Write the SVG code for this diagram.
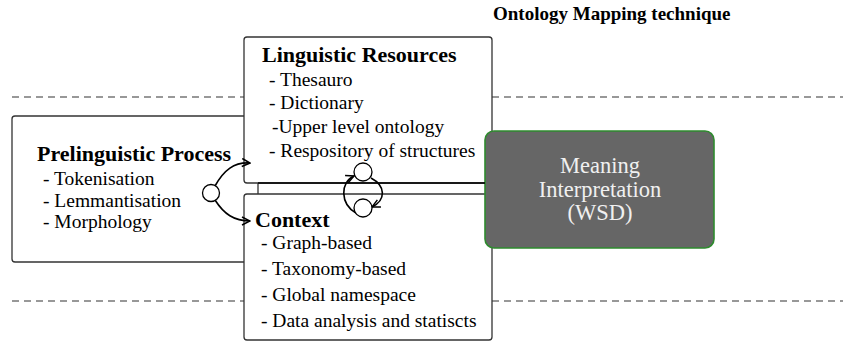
<svg xmlns="http://www.w3.org/2000/svg" width="843" height="342" viewBox="0 0 843 342">
  <style>
    .box { fill: #ffffff; stroke: #333333; stroke-width: 1.3; }
    .guide { stroke: #777777; stroke-width: 1.3; stroke-dasharray: 7 5; fill: none; }
    .head { font-family: "Liberation Serif", "Times New Roman", serif; font-weight: bold; font-size: 22px; fill: #000000; }
    .item { font-family: "Liberation Serif", "Times New Roman", serif; font-size: 19.5px; fill: #000000; }
    .title { font-family: "Liberation Serif", "Times New Roman", serif; font-weight: bold; font-size: 19px; fill: #000000; }
    .wsd { font-family: "Liberation Serif", "Times New Roman", serif; font-size: 22.5px; fill: #f0f0f0; text-anchor: middle; }
    .flow { fill: none; stroke: #000000; stroke-width: 1.6; }
    .knot { fill: #ffffff; stroke: #000000; stroke-width: 1.3; }
  </style>
  <defs>
    <marker id="open-arrow" viewBox="0 0 10 10" refX="9" refY="5" markerWidth="10" markerHeight="10" markerUnits="userSpaceOnUse" orient="auto">
      <path d="M1,1 L9,5 L1,9" fill="none" stroke="#000000" stroke-width="1.5"/>
    </marker>
  </defs>

  <rect width="843" height="342" fill="#ffffff"/>

  <text class="title" x="493" y="20">Ontology Mapping technique</text>

  <!-- dashed band guides -->
  <line class="guide" x1="12" y1="97" x2="843" y2="97"/>
  <line class="guide" x1="12" y1="301" x2="843" y2="301"/>

  <g id="prelinguistic">
    <rect class="box" x="12" y="116" width="246" height="146" rx="3"/>
    <text class="head" x="37" y="161">Prelinguistic Process</text>
    <text class="item" x="43" y="185">- Tokenisation</text>
    <text class="item" x="43" y="207">- Lemmantisation</text>
    <text class="item" x="43" y="228">- Morphology</text>
  </g>

  <g id="linguistic-resources">
    <rect class="box" x="244" y="37" width="248" height="146" rx="3"/>
    <text class="head" x="262" y="62">Linguistic Resources</text>
    <text class="item" x="269" y="86">- Thesauro</text>
    <text class="item" x="269" y="109">- Dictionary</text>
    <text class="item" x="272" y="133">-Upper level ontology</text>
    <text class="item" x="269" y="157">- Respository of structures</text>
  </g>

  <g id="context">
    <rect class="box" x="244" y="194" width="248" height="146" rx="3"/>
    <text class="head" x="255" y="227">Context</text>
    <text class="item" x="261" y="249">- Graph-based</text>
    <text class="item" x="261" y="275">- Taxonomy-based</text>
    <text class="item" x="261" y="301">- Global namespace</text>
    <text class="item" x="261" y="327">- Data analysis and statiscts</text>
  </g>

  <g id="meaning-interpretation">
    <rect x="485" y="131" width="229" height="117" rx="9" fill="#666666" stroke="#2e8b2e" stroke-width="1.6"/>
    <text class="wsd" x="600" y="173">Meaning</text>
    <text class="wsd" x="600" y="197">Interpretation</text>
    <text class="wsd" x="600" y="220">(WSD)</text>
  </g>

  <g id="connectors">
    <line x1="258" y1="183" x2="485" y2="183" stroke="#000000" stroke-width="1.3"/>
    <!-- fork from the pre-linguistic stage -->
    <path class="flow" d="M215,186 C224,170 234,162 250,163" marker-end="url(#open-arrow)"/>
    <path class="flow" d="M215,200 C224,214 234,221 250,221" marker-end="url(#open-arrow)"/>
    <circle class="knot" cx="211" cy="193" r="8.5"/>
    <!-- feedback loop between resources and context -->
    <path class="flow" d="M356,213 C340,204 340,182 354,176" marker-end="url(#open-arrow)"/>
    <path class="flow" d="M371,178 C386,186 386,200 372,207" marker-end="url(#open-arrow)"/>
    <circle class="knot" cx="363" cy="172" r="9"/>
    <circle class="knot" cx="363" cy="208" r="9"/>
  </g>
</svg>
